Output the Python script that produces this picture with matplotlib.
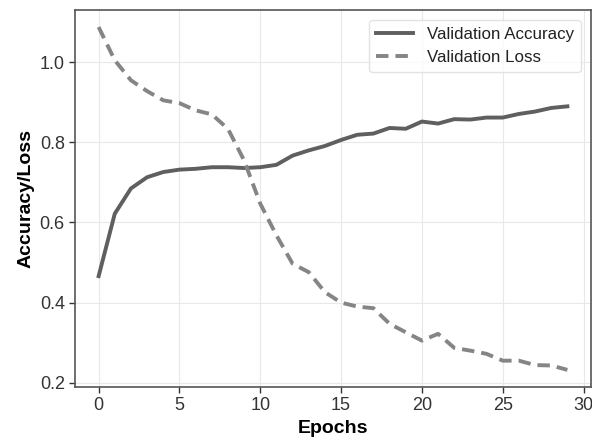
import matplotlib
matplotlib.use("Agg")
import matplotlib.pyplot as plt
import numpy as np

epochs = list(range(30))
val_accuracy = [0.466, 0.622, 0.685, 0.713, 0.726, 0.732, 0.734, 0.738, 0.738, 0.736,
                0.738, 0.744, 0.767, 0.780, 0.791, 0.806, 0.819, 0.822, 0.836, 0.834,
                0.852, 0.847, 0.858, 0.857, 0.862, 0.862, 0.871, 0.877, 0.886, 0.890]
val_loss = [1.088, 1.005, 0.955, 0.928, 0.905, 0.898, 0.880, 0.870, 0.834, 0.755,
            0.647, 0.568, 0.497, 0.476, 0.426, 0.400, 0.390, 0.386, 0.347, 0.326,
            0.305, 0.322, 0.287, 0.280, 0.272, 0.255, 0.255, 0.244, 0.243, 0.232]

plt.rcParams['font.family'] = ['Liberation Sans', 'DejaVu Sans']

fig = plt.figure(figsize=(5.92, 4.38), dpi=100)
ax = fig.add_axes([0.127, 0.1164, 0.871, 0.861])

ax.plot(epochs, val_accuracy, color='#5f5f5f', lw=2.8, label='Validation Accuracy')
ax.plot(epochs, val_loss, color='#858585', lw=2.8, ls=(0, (3.2, 1.8)), label='Validation Loss')

ax.set_xticks([0, 5, 10, 15, 20, 25, 30])
ax.set_yticks([0.2, 0.4, 0.6, 0.8, 1.0])
ax.grid(True, color='#e8e8e8', lw=0.8)
for s in ax.spines.values():
    s.set_color('#555555')
    s.set_linewidth(1.2)
ax.tick_params(labelsize=13, colors='#333333', length=4, width=1)
ax.set_xlabel('Epochs', fontsize=14, fontweight='bold')
ax.set_ylabel('Accuracy/Loss', fontsize=14, fontweight='bold')
leg = ax.legend(loc='upper right', fontsize=12.2, frameon=True, handlelength=2.2,
                labelspacing=0.5, borderaxespad=0.6, handletextpad=0.8)
leg.get_frame().set_edgecolor('#dddddd')
for t in leg.get_texts():
    t.set_color('#222222')

fig.savefig('out.png', dpi=100)
